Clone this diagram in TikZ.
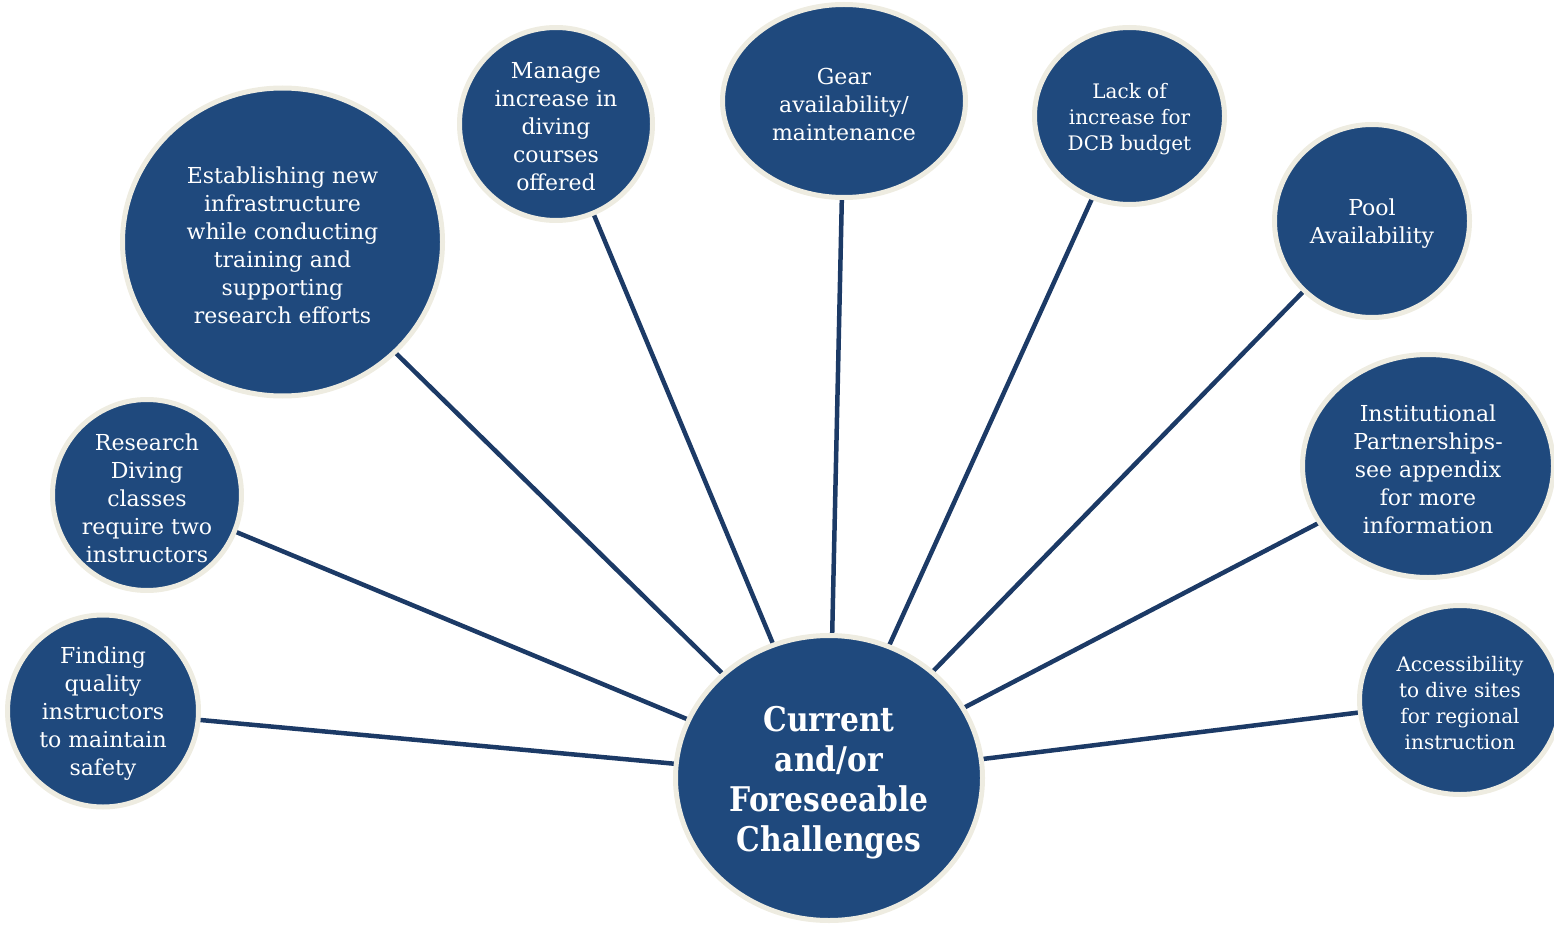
\documentclass[tikz,border=0pt]{standalone}
\usepackage{fontspec}
\setmainfont{DejaVu Serif}
\newfontfamily\cfont{DejaVu Serif}[FakeStretch=0.875]
\usetikzlibrary{shapes.geometric,backgrounds}
\definecolor{cfill}{HTML}{1F497D}
\definecolor{cborder}{HTML}{EEECE1}
\definecolor{cline}{HTML}{1C3A66}
\tikzset{
  bubble/.style={ellipse, fill=cfill, draw=cborder, line width=5pt, inner sep=0pt},
  btext/.style={text=white, align=center, inner sep=0pt, yshift=-3pt, font=\fontsize{22}{28}\selectfont},
  stext/.style={btext, font=\fontsize{20}{25.8}\selectfont},
  htext/.style={btext, yshift=-2pt, font=\cfont\bfseries\fontsize{34}{40}\selectfont},
  link/.style={draw=cline, line width=4.5pt}
}
\begin{document}
\begin{tikzpicture}[x=1pt,y=-1pt]
\useasboundingbox (0,0) rectangle (1554,925);
\node[bubble, minimum width=307pt, minimum height=285pt,
  label={[htext]center:{Current\\and/or\\Foreseeable\\Challenges}}] (hub) at (829,778) {};
\node[bubble, minimum width=191pt, minimum height=192pt,
  label={[btext]center:{Finding\\quality\\instructors\\to maintain\\safety}}] (find) at (103,711) {};
\node[bubble, minimum width=189pt, minimum height=191pt,
  label={[btext]center:{Research\\Diving\\classes\\require two\\instructors}}] (research) at (147,495) {};
\node[bubble, minimum width=320pt, minimum height=308pt,
  label={[btext]center:{Establishing new\\infrastructure\\while conducting\\training and\\supporting\\research efforts}}] (estab) at (282.5,242) {};
\node[bubble, minimum width=193pt, minimum height=193pt,
  label={[btext]center:{Manage\\increase in\\diving\\courses\\offered}}] (manage) at (556,124) {};
\node[bubble, minimum width=243pt, minimum height=193pt,
  label={[btext]center:{Gear\\availability/\\maintenance}}] (gear) at (844,101) {};
\node[bubble, minimum width=190pt, minimum height=177pt,
  label={[stext]center:{Lack of\\increase for\\DCB budget}}] (lack) at (1129.5,116) {};
\node[bubble, minimum width=195pt, minimum height=193pt,
  label={[btext]center:{Pool\\Availability}}] (pool) at (1372,221) {};
\node[bubble, minimum width=251pt, minimum height=223pt,
  label={[btext]center:{Institutional\\Partnerships-\\see appendix\\for more\\information}}] (inst) at (1428,466) {};
\node[bubble, minimum width=201pt, minimum height=189pt,
  label={[stext]center:{Accessibility\\to dive sites\\for regional\\instruction}}] (access) at (1460,700) {};
\begin{scope}[on background layer]
\foreach \n in {find,research,estab,manage,gear,lack,pool,inst,access}
  \draw[link] (hub.center) -- (\n.center);
\end{scope}
\end{tikzpicture}
\end{document}
